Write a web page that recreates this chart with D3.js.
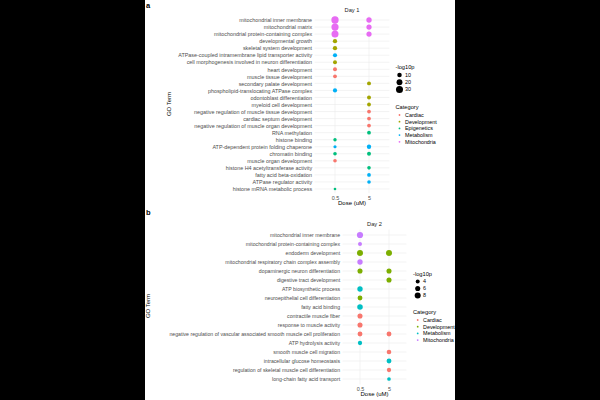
<!DOCTYPE html>
<html><head><meta charset="utf-8">
<script src="https://cdn.jsdelivr.net/npm/d3@7"></script>
<style>body{margin:0;background:#fff}svg{display:block}text{font-family:"Liberation Sans",Arial,sans-serif}</style>
</head><body>
<svg id="c" width="600" height="400"></svg>
<script>
// ---------- Data ----------
const doses = ["0.5", "5"];

const day1Terms = [
  "mitochondrial inner membrane","mitochondrial matrix","mitochondrial protein-containing complex",
  "developmental growth","skeletal system development","ATPase-coupled intramembrane lipid transporter activity",
  "cell morphogenesis involved in neuron differentiation","heart development","muscle tissue development",
  "secondary palate development","phospholipid-translocating ATPase complex","odontoblast differentiation",
  "myeloid cell development","negative regulation of muscle tissue development","cardiac septum development",
  "negative regulation of muscle organ development","RNA methylation","histone binding",
  "ATP-dependent protein folding chaperone","chromatin binding","muscle organ development",
  "histone H4 acetyltransferase activity","fatty acid beta-oxidation","ATPase regulator activity",
  "histone mRNA metabolic process"
];
const day1Categories = ["Cardiac","Development","Epigenetics","Metabolism","Mitochondria"];
const day1Colors = ["#F8766D","#A3A500","#00BF7D","#00B0F6","#E76BF3"];
const day1SizeBreaks = [10, 20, 30];
// points: term index, dose, category, -log10p
const day1PointTerm = [0,0,1,1,2,2,3,4,5,6,7,8,9,10,11,12,13,14,15,16,17,18,18,19,19,20,21,22,23,24];
const day1PointDose = ["0.5","5","0.5","5","0.5","5","0.5","0.5","0.5","0.5","0.5","0.5","5","0.5","5","5","5","5","5","5","0.5","0.5","5","0.5","5","0.5","5","5","5","0.5"];
const day1PointCat  = ["Mitochondria","Mitochondria","Mitochondria","Mitochondria","Mitochondria","Mitochondria",
  "Development","Development","Metabolism","Development","Cardiac","Cardiac","Development","Metabolism",
  "Development","Development","Cardiac","Cardiac","Cardiac","Epigenetics","Epigenetics","Metabolism","Metabolism",
  "Epigenetics","Epigenetics","Cardiac","Epigenetics","Metabolism","Metabolism","Epigenetics"];
const day1PointVal  = [33,16,32,15,30,15,9,9,8,7,7,6,7,8,7,6,6,6,6,6,4,3,9,5,7,5,5,6,5,1];

const day2Terms = [
  "mitochondrial inner membrane","mitochondrial protein-containing complex","endoderm development",
  "mitochondrial respiratory chain complex assembly","dopaminergic neuron differentiation","digestive tract development",
  "ATP biosynthetic process","neuroepithelial cell differentiation","fatty acid binding","contractile muscle fiber",
  "response to muscle activity","negative regulation of vascular associated smooth muscle cell proliferation",
  "ATP hydrolysis activity","smooth muscle cell migration","intracellular glucose homeostasis",
  "regulation of skeletal muscle cell differentiation","long-chain fatty acid transport"
];
const day2Categories = ["Cardiac","Development","Metabolism","Mitochondria"];
const day2Colors = ["#F8766D","#7CAE00","#00BFC4","#C77CFF"];
const day2SizeBreaks = [4, 6, 8];
const day2PointTerm = [0,1,2,2,3,4,4,5,6,7,8,9,10,11,11,12,13,14,15,16];
const day2PointDose = ["0.5","0.5","0.5","5","0.5","0.5","5","5","0.5","0.5","0.5","0.5","0.5","0.5","5","0.5","5","5","5","5"];
const day2PointCat  = ["Mitochondria","Mitochondria","Development","Development","Mitochondria","Development","Development",
  "Development","Metabolism","Development","Metabolism","Cardiac","Cardiac","Cardiac","Cardiac","Metabolism",
  "Cardiac","Metabolism","Cardiac","Metabolism"];
const day2PointVal  = [8.5,4,8,8,6.5,6,6,6,6.5,5.5,7,6,6,5.5,5.5,4.5,5,5.5,4.5,3.5];

// ---------- Drawing ----------
const svg = d3.select("#c");
const FONT = "Liberation Sans, Arial, sans-serif";

function panel(o) {
  const g = svg.append("g");
  const x = d3.scalePoint().domain(doses).range([o.left, o.right]).padding(0.6);
  const y = d3.scalePoint().domain(o.terms).range([o.top, o.bottom]).padding(0.6);
  const color = d3.scaleOrdinal().domain(o.cats).range(o.colors);
  const size = d3.scaleRadial().domain(o.sizeDomain).range(o.sizeRange);

  // gridlines
  g.selectAll(".hg").data(o.terms).join("line")
    .attr("x1", o.left).attr("x2", o.right).attr("y1", d => y(d)).attr("y2", d => y(d))
    .attr("stroke", "#EBEBEB").attr("stroke-width", 0.6);
  g.selectAll(".vg").data(doses).join("line")
    .attr("x1", d => x(d)).attr("x2", d => x(d)).attr("y1", o.top).attr("y2", o.bottom)
    .attr("stroke", "#EBEBEB").attr("stroke-width", 0.6);

  // axes
  const ya = g.append("g").attr("transform", `translate(${o.left},0)`)
    .call(d3.axisLeft(y).tickSize(0).tickPadding(2.5));
  ya.select(".domain").remove();
  ya.selectAll("text").attr("font-size", o.labelSize).attr("fill", "#4D4D4D").attr("font-family", FONT);
  const xa = g.append("g").attr("transform", `translate(0,${o.bottom})`)
    .call(d3.axisBottom(x).tickSize(0).tickPadding(2.5));
  xa.select(".domain").remove();
  xa.selectAll("text").attr("font-size", 5.4).attr("fill", "#4D4D4D").attr("font-family", FONT);

  // points
  const pts = o.pTerm.map((t, i) => ({term: o.terms[t], dose: o.pDose[i], cat: o.pCat[i], v: o.pVal[i]}));
  g.selectAll(".pt").data(pts).join("circle")
    .attr("cx", d => x(d.dose)).attr("cy", d => y(d.term))
    .attr("r", d => size(d.v)).attr("fill", d => color(d.cat));

  // titles
  g.append("text").attr("x", (o.left + o.right) / 2).attr("y", o.top - 4)
    .attr("text-anchor", "middle").attr("font-size", 5.7).attr("fill", "#1A1A1A").text(o.title);
  g.append("text").attr("x", (o.left + o.right) / 2).attr("y", o.bottom + 12)
    .attr("text-anchor", "middle").attr("font-size", 6).attr("fill", "#000").text("Dose (uM)");
  g.append("text").attr("transform", `translate(${o.goX},${o.goY}) rotate(-90)`)
    .attr("text-anchor", "middle").attr("font-size", 6).attr("fill", "#000").text("GO Term");
  g.append("text").attr("x", 146).attr("y", o.letterY).attr("font-size", 7.5).attr("font-weight", "bold")
    .attr("fill", "#000").text(o.letter);

  // size legend
  const L = o.legend;
  g.append("text").attr("x", L.x).attr("y", L.sizeTitleY).attr("font-size", 5.7).attr("fill", "#000").text("-log10p");
  o.sizeBreaks.forEach((b, i) => {
    const yy = L.sizeY0 + i * L.sizeStep;
    g.append("circle").attr("cx", L.dotX).attr("cy", yy).attr("r", size(b)).attr("fill", "#000");
    g.append("text").attr("x", L.textX).attr("y", yy).attr("dy", "0.35em").attr("font-size", 5.4).attr("fill", "#000").text(b);
  });
  g.append("text").attr("x", L.x).attr("y", L.catTitleY).attr("font-size", 5.7).attr("fill", "#000").text("Category");
  o.cats.forEach((c, i) => {
    const yy = L.catY0 + i * L.catStep;
    g.append("circle").attr("cx", L.dotX).attr("cy", yy).attr("r", 0.9).attr("fill", color(c));
    g.append("text").attr("x", L.textX).attr("y", yy).attr("dy", "0.35em").attr("font-size", 5.4).attr("fill", "#000").text(c);
  });
}

panel({
  terms: day1Terms, cats: day1Categories, colors: day1Colors, sizeBreaks: day1SizeBreaks,
  pTerm: day1PointTerm, pDose: day1PointDose, pCat: day1PointCat, pVal: day1PointVal,
  left: 314.6, right: 389.4, top: 15.8, bottom: 193.2,
  sizeDomain: [0, 35], sizeRange: [1.2, 3.75], labelSize: 5.4,
  title: "Day 1", letter: "a", letterY: 8, goX: 171, goY: 104,
  legend: {x: 395.5, dotX: 399.5, textX: 405, sizeTitleY: 68.5, sizeY0: 75, sizeStep: 7.2,
           catTitleY: 108.5, catY0: 115, catStep: 6.7}
});

panel({
  terms: day2Terms, cats: day2Categories, colors: day2Colors, sizeBreaks: day2SizeBreaks,
  pTerm: day2PointTerm, pDose: day2PointDose, pCat: day2PointCat, pVal: day2PointVal,
  left: 342.6, right: 406.4, top: 229.6, bottom: 384.4,
  sizeDomain: [3, 9], sizeRange: [1.66, 3.2], labelSize: 5.2,
  title: "Day 2", letter: "b", letterY: 215, goX: 150, goY: 306,
  legend: {x: 413, dotX: 417.7, textX: 423, sizeTitleY: 275.5, sizeY0: 281.5, sizeStep: 7,
           catTitleY: 313.5, catY0: 320, catStep: 6.7}
});

// black side bands
svg.append("rect").attr("x", 0).attr("y", 0).attr("width", 145).attr("height", 400).attr("fill", "#000");
svg.append("rect").attr("x", 455).attr("y", 0).attr("width", 145).attr("height", 400).attr("fill", "#000");
</script>
</body></html>
